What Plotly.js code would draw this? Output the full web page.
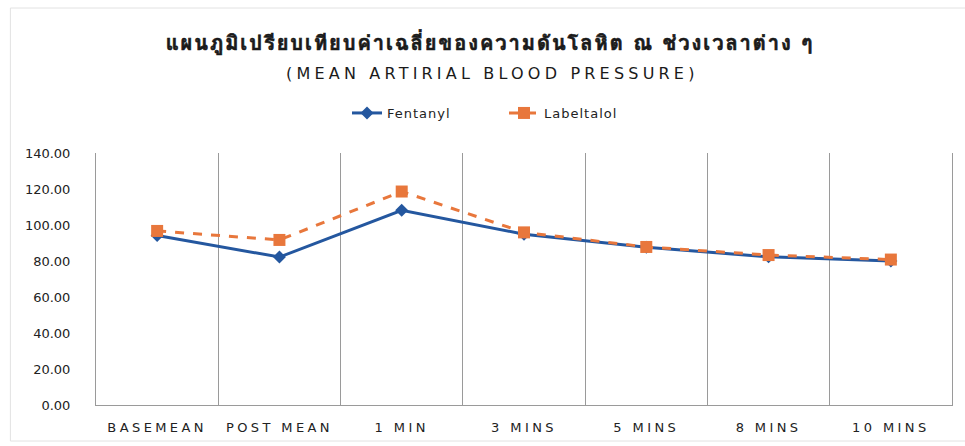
<!DOCTYPE html>
<html>
<head>
<meta charset="utf-8">
<script src="https://cdn.plot.ly/plotly-3.0.1.min.js"></script>
<style>
html,body{margin:0;padding:0;background:#fff;}
#chart{width:965px;height:446px;}
.xtick text{letter-spacing:3.4px;}
.legendtext{letter-spacing:1px;}
.gtitle{letter-spacing:2px;stroke:#1a1a1a;stroke-width:0.7px;}
.annotation-text{letter-spacing:4.2px;}
</style>
</head>
<body>
<div id="chart"></div>
<script>
const categories = ["BASEMEAN", "POST MEAN", "1 MIN", "3 MINS", "5 MINS", "8 MINS", "10 MINS"];
const fentanyl = [94.2, 82.2, 108.2, 94.9, 87.6, 82.3, 80.0];
const labetalol = [96.7, 91.7, 118.6, 95.9, 87.8, 83.3, 80.8];
const yTicks = [0, 20, 40, 60, 80, 100, 120, 140];
const titleLine1 = "แผนภูมิเปรียบเทียบค่าเฉลี่ยของความดันโลหิต ณ ช่วงเวลาต่าง ๆ";
const titleLine2 = "(MEAN ARTIRIAL BLOOD PRESSURE)";

const font = "'DejaVu Sans', 'Noto Sans', sans-serif";
const thaiFont = "'Loma', 'Garuda', 'Noto Sans Thai Looped', 'Noto Sans Thai', 'DejaVu Sans', sans-serif";

const traces = [
  {
    x: categories, y: fentanyl, name: "Fentanyl", type: "scatter", mode: "lines+markers",
    line: {color: "#24579F", width: 3},
    marker: {symbol: "diamond", size: 10, color: "#24579F"}
  },
  {
    x: categories, y: labetalol, name: "Labeltalol", type: "scatter", mode: "lines+markers",
    line: {color: "#E8773C", width: 3, dash: "dash"},
    marker: {symbol: "square", size: 12, color: "#E8773C"}
  }
];

const plotLeft = 96, plotRight = 952, plotW = plotRight - plotLeft;
const plotTop = 153, plotBottom = 405, plotH = plotBottom - plotTop;

const layout = {
  width: 965, height: 446,
  margin: {l: plotLeft, r: 965 - plotRight, t: plotTop, b: 446 - plotBottom},
  paper_bgcolor: "#fff", plot_bgcolor: "#fff",
  font: {family: font, color: "#222"},
  title: {
    text: "<b>" + titleLine1 + "</b>",
    font: {size: 20, color: "#1a1a1a", family: thaiFont},
    x: 490 / 965, xanchor: "center", xref: "container",
    y: 1 - 43 / 446, yref: "container", yanchor: "middle"
  },
  annotations: [{
    text: titleLine2, xref: "paper", yref: "paper",
    x: (492 - plotLeft) / plotW, y: 1 + (plotTop - 73) / plotH, xanchor: "center", yanchor: "middle",
    showarrow: false, font: {size: 16, color: "#1a1a1a", family: font}
  }],
  shapes: [{
    type: "rect", xref: "paper", yref: "paper",
    x0: -0.1, x1: 1.05, y0: -(441 - plotBottom) / plotH, y1: 1 + (plotTop - 8) / plotH,
    line: {color: "#e2e2e2", width: 1}, fillcolor: "rgba(0,0,0,0)", layer: "below"
  }],
  showlegend: true,
  legend: {
    orientation: "h", x: (504 - plotLeft) / plotW, xanchor: "center",
    y: 1 + (plotTop - 113) / plotH, yanchor: "middle",
    entrywidth: 112, entrywidthmode: "pixels",
    font: {size: 13, color: "#222", family: font}
  },
  xaxis: {
    type: "category", tickson: "boundaries",
    showgrid: true, gridcolor: "#9a9a9a", gridwidth: 1,
    showline: true, linecolor: "#9a9a9a", linewidth: 1,
    ticks: "", tickfont: {size: 13, color: "#222"}, ticklabelstandoff: 10,
    range: [-0.5, 6.5]
  },
  yaxis: {
    range: [0, 140], tickvals: yTicks, ticktext: yTicks.map(v => v.toFixed(2)),
    showgrid: false, zeroline: false,
    showline: true, mirror: true, linecolor: "#9a9a9a", linewidth: 1, ticks: "",
    tickfont: {size: 13, color: "#222"}, ticklabelstandoff: 22
  }
};

Plotly.newPlot("chart", traces, layout, {displayModeBar: false, staticPlot: true});
</script>
</body>
</html>
